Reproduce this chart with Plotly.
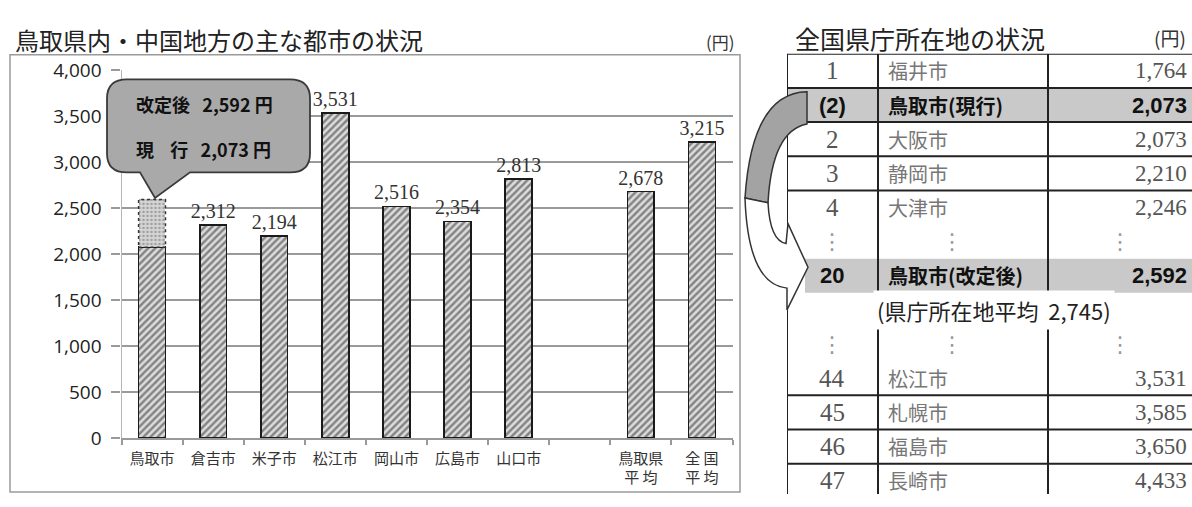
import plotly.graph_objects as go

W, H = 1192, 507

# ---------------- data: bar chart ----------------
categories = ["鳥取市", "倉吉市", "米子市", "松江市", "岡山市", "広島市", "山口市", " ",
              "鳥取県<br>平 均", "全 国<br>平 均"]
current_fees = [2073, 2312, 2194, 3531, 2516, 2354, 2813, None, 2678, 3215]
tottori_current = 2073
tottori_revised = 2592
y_tick_values = [0, 500, 1000, 1500, 2000, 2500, 3000, 3500, 4000]
y_tick_labels = ["0", "500", "1,000", "1,500", "2,000", "2,500", "3,000", "3,500", "4,000"]

# ---------------- data: table ----------------
table_ranks = ["1", "(2)", "2", "3", "4", "20", "44", "45", "46", "47"]
table_cities = ["福井市", "鳥取市(現行)", "大阪市", "静岡市", "大津市", "鳥取市(改定後)",
                "松江市", "札幌市", "福島市", "長崎市"]
table_fees = [1764, 2073, 2073, 2210, 2246, 2592, 3531, 3585, 3650, 4433]
table_highlight = [False, True, False, False, False, True, False, False, False, False]
capital_average = 2745

# layout slots of the table rows (row index on the table axis)
table_slots = [0, 1, 2, 3, 4, 6, 9, 10, 11, 12]
dot_slots = [5, 8]
average_slot = 7


def px(x):
    return x / W


def py(y):
    return 1 - y / H


def path(cmds):
    out = []
    for c in cmds:
        op = c[0]
        pts = c[1:]
        s = op + " " + " ".join(f"{px(x):.5f},{py(y):.5f}" for x, y in pts)
        out.append(s)
    return " ".join(out)


fig = go.Figure()

bar_text = ["" if c == "鳥取市" or v is None else f"{v:,}" for c, v in zip(categories, current_fees)]
fig.add_trace(go.Bar(
    x=categories, y=current_fees, width=0.44,
    text=bar_text, textposition="outside", cliponaxis=False, constraintext="none",
    textfont=dict(family="Liberation Serif", size=20, color="#333"),
    marker=dict(color="#2a2a2a", line=dict(color="#1a1a1a", width=1.6),
                pattern=dict(shape="/", fgcolor="#2a2a2a", bgcolor="#dcdcdc", size=5, solidity=0.48)),
    showlegend=False, hoverinfo="skip",
))
increment = [tottori_revised - tottori_current] + [None] * (len(categories) - 1)
fig.add_trace(go.Bar(
    x=categories, y=increment, width=0.44,
    marker=dict(color="#777", line=dict(width=0),
                pattern=dict(shape=".", fgcolor="#666", bgcolor="#d6d6d6", size=4, solidity=0.35)),
    showlegend=False, hoverinfo="skip",
))

shapes = []
# dashed outline of the revised part
shapes.append(dict(type="rect", xref="x", yref="y", x0=-0.22, x1=0.22,
                   y0=tottori_current, y1=tottori_revised,
                   line=dict(color="#333", width=1.5, dash="dot"), layer="above"))
# chart outer frame
shapes.append(dict(type="rect", xref="paper", yref="paper", x0=px(10), x1=px(740), y0=py(505), y1=py(44),
                   line=dict(color="#9a9a9a", width=1.5), layer="below"))

# callout
L, R, T, B, r = 107, 310, 70, 168, 20
callout = path([
    ("M", (L + r, T)), ("L", (R - r, T)), ("Q", (R, T), (R, T + r)), ("L", (R, B - r)),
    ("Q", (R, B), (R - r, B)), ("L", (190, B)), ("L", (155, 195)), ("L", (140, B)),
    ("L", (L + r, B)), ("Q", (L, B), (L, B - r)), ("L", (L, T + r)), ("Q", (L, T), (L + r, T)), ("Z",),
])
shapes.append(dict(type="path", xref="paper", yref="paper", path=callout,
                   fillcolor="#a9a9a9", line=dict(color="#3a3a3a", width=1.8), layer="above"))

# ---------------- table shapes ----------------
for slot, hl in zip(table_slots, table_highlight):
    if hl:
        x0 = 0 if slot < 5 else 18
        shapes.append(dict(type="rect", xref="x2", yref="y2", x0=x0, x1=405, y0=slot - 0.5, y1=slot + 0.5,
                           fillcolor="#c9c9c9", line=dict(width=0), layer="below"))
hlines = [-0.5, 0.5, 1.5, 2.5, 3.5, 9.5, 10.5, 11.5]
for yv in hlines:
    shapes.append(dict(type="line", xref="x2", yref="y2", x0=0, x1=405, y0=yv, y1=yv,
                       line=dict(color="#222", width=2), layer="below"))
for xv in [0, 91, 261]:
    shapes.append(dict(type="line", xref="x2", yref="y2", x0=xv, x1=xv, y0=-0.5, y1=12.4,
                       line=dict(color="#222", width=2), layer="below"))

# curved arrow (back band, grey)
back = path([("M", (807, 83)), ("Q", (752, 84), (745, 195)), ("L", (768, 200)),
             ("Q", (772, 124), (807, 117)), ("Z",)])
shapes.append(dict(type="path", xref="paper", yref="paper", path=back,
                   fillcolor="#a3a3a3", line=dict(color="#333", width=1.5), layer="above"))
front = path([("M", (745, 195)), ("Q", (748, 286), (787, 290)), ("L", (787, 313)), ("L", (808, 268)),
              ("L", (788, 222)), ("L", (786, 243)), ("Q", (770, 240), (768, 200)), ("Z",)])
shapes.append(dict(type="path", xref="paper", yref="paper", path=front,
                   fillcolor="#ffffff", line=dict(color="#333", width=1.5), layer="above"))

annotations = []
# titles
annotations.append(dict(xref="paper", yref="paper", x=px(13), y=py(28), xanchor="left", yanchor="middle",
                        text="鳥取県内・中国地方の主な都市の状況", showarrow=False,
                        font=dict(family="Noto Sans CJK JP", size=24, color="#222")))
annotations.append(dict(xref="paper", yref="paper", x=px(737), y=py(30), xanchor="right", yanchor="middle",
                        text="(円)", showarrow=False,
                        font=dict(family="Noto Sans CJK JP", size=17, color="#333")))
annotations.append(dict(xref="paper", yref="paper", x=px(793), y=py(26), xanchor="left", yanchor="middle",
                        text="全国県庁所在地の状況", showarrow=False,
                        font=dict(family="Noto Sans CJK JP", size=25, color="#222")))
annotations.append(dict(xref="paper", yref="paper", x=px(1188), y=py(26), xanchor="right", yanchor="middle",
                        text="(円)", showarrow=False,
                        font=dict(family="Noto Sans CJK JP", size=19, color="#333")))
# callout texts
nb = "\u00a0"
annotations.append(dict(xref="paper", yref="paper", x=px(134), y=py(96), xanchor="left", yanchor="middle",
                        text=f"<b>改定後{nb*3}{tottori_revised:,}{nb}円</b>", showarrow=False,
                        font=dict(family="Noto Sans CJK JP", size=18, color="#111")))
annotations.append(dict(xref="paper", yref="paper", x=px(134), y=py(143), xanchor="left", yanchor="middle",
                        text=f"<b>現{nb*4}行{nb*3}{tottori_current:,}{nb}円</b>", showarrow=False,
                        font=dict(family="Noto Sans CJK JP", size=18, color="#111")))

# table texts
for rank, city, fee, hl, slot in zip(table_ranks, table_cities, table_fees, table_highlight, table_slots):
    if hl:
        fr = dict(family="Liberation Sans", size=22, color="#111")
        fc = dict(family="Noto Sans CJK JP", size=20, color="#111")
        fv = dict(family="Liberation Sans", size=22, color="#111")
        t_rank, t_city, t_fee = f"<b>{rank}</b>", f"<b>{city}</b>", f"<b>{fee:,}</b>"
    else:
        fr = dict(family="Liberation Serif", size=25, color="#555")
        fc = dict(family="Noto Sans CJK JP", size=20, color="#777")
        fv = dict(family="Liberation Serif", size=23, color="#555")
        t_rank, t_city, t_fee = rank, city, f"{fee:,}"
    annotations.append(dict(xref="x2", yref="y2", x=45, y=slot, xanchor="center", yanchor="middle",
                            text=t_rank, showarrow=False, font=fr))
    annotations.append(dict(xref="x2", yref="y2", x=99, y=slot, xanchor="left", yanchor="middle",
                            text=t_city, showarrow=False, font=fc))
    annotations.append(dict(xref="x2", yref="y2", x=402, y=slot, xanchor="right", yanchor="middle",
                            text=t_fee, showarrow=False, font=fv))
for slot in dot_slots:
    for xv in [45, 165, 333]:
        annotations.append(dict(xref="x2", yref="y2", x=xv, y=slot, xanchor="center", yanchor="middle",
                                text="⋮", showarrow=False,
                                font=dict(family="DejaVu Sans", size=22, color="#999")))
annotations.append(dict(xref="x2", yref="y2", x=86, y=average_slot, xanchor="left", yanchor="middle",
                        text=f"(県庁所在地平均{nb*2}{capital_average:,})", showarrow=False,
                        bgcolor="#ffffff", borderpad=3,
                        font=dict(family="Noto Sans CJK JP", size=22, color="#222")))

fig.update_layout(
    width=W, height=H,
    margin=dict(l=0, r=0, t=0, b=0),
    paper_bgcolor="#ffffff", plot_bgcolor="#ffffff",
    barmode="stack", bargap=0.56,
    shapes=shapes, annotations=annotations,
    xaxis=dict(domain=[px(121.5), px(732.5)], type="category",
               categoryorder="array", categoryarray=categories, range=[-0.5, 9.5],
               tickson="boundaries", ticks="outside", ticklen=5, tickcolor="#999", tickwidth=1.5,
               showline=True, linecolor="#999", linewidth=1.5, showgrid=False,
               ticklabelstandoff=6,
               tickfont=dict(family="Noto Sans CJK JP", size=15, color="#333"), fixedrange=True),
    yaxis=dict(domain=[py(448), py(60)], range=[0, 4000],
               tickvals=y_tick_values, ticktext=y_tick_labels,
               ticks="outside", ticklen=9, tickcolor="#9a9a9a", tickwidth=1.5,
               showgrid=True, gridcolor="#9a9a9a", gridwidth=1.5, zeroline=False,
               showline=True, linecolor="#b5b5b5", linewidth=1.2,
               ticklabelstandoff=6,
               tickfont=dict(family="Open Sans", size=19, color="#222"), fixedrange=True),
    xaxis2=dict(domain=[px(787), 1.0], range=[0, 405], visible=False, fixedrange=True),
    yaxis2=dict(domain=[0.0, py(43)], range=[12.389, -0.5], visible=False, fixedrange=True, anchor="x2"),
)

fig.write_html("out.html", config={"displayModeBar": False},
               post_script="document.body.style.margin='0';")
